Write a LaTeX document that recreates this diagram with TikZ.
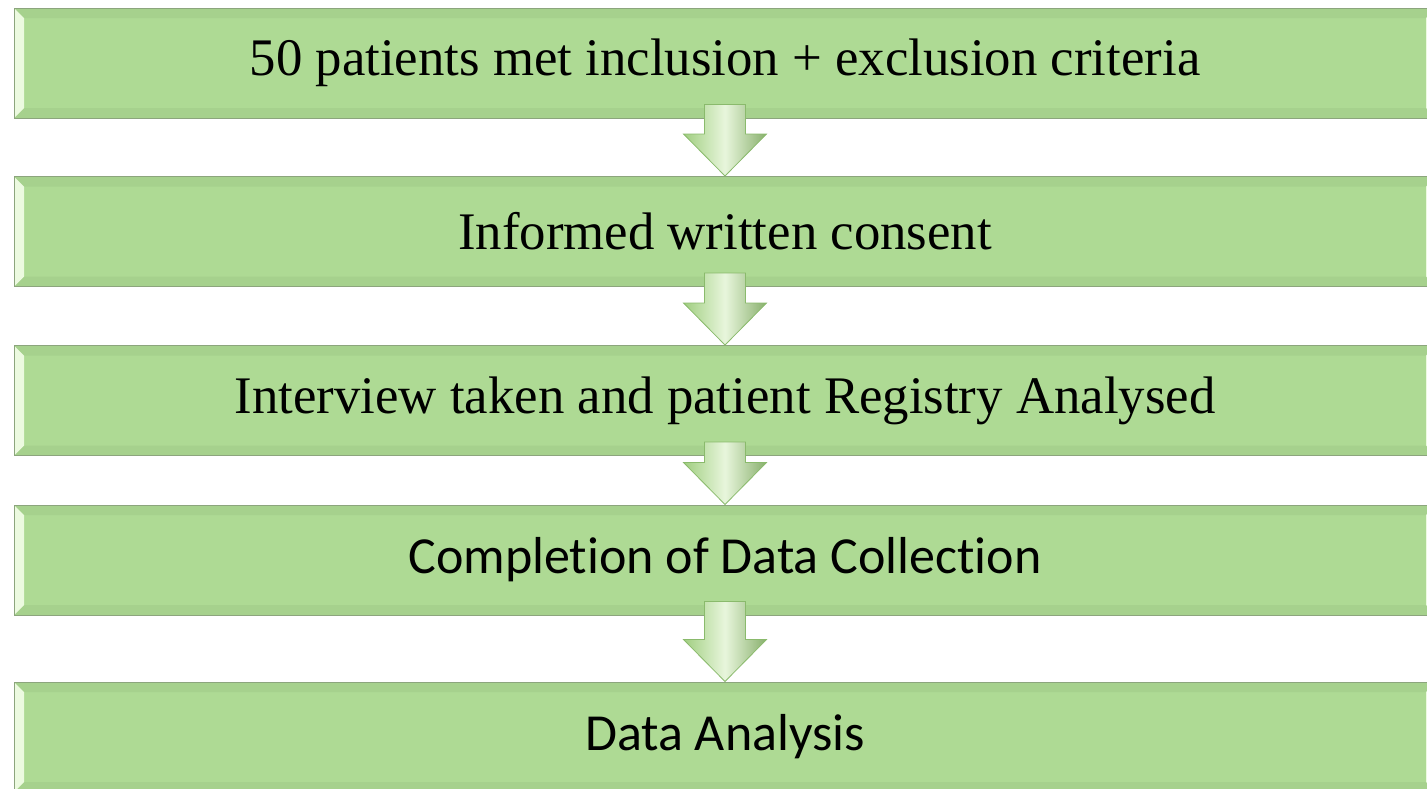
\documentclass[tikz,border=0pt]{standalone}
\usepackage{fontspec}
\setmainfont{Liberation Serif}
\newfontfamily\calibrifont[Ligatures=NoCommon]{Carlito}
\usetikzlibrary{calc}
\definecolor{boxgreen}{RGB}{174,218,148}
\definecolor{boxshade}{RGB}{166,209,141}
\definecolor{boxedge}{RGB}{140,165,125}
\definecolor{bevellight}{RGB}{236,250,224}
\definecolor{arrowgreen}{RGB}{160,206,128}
\definecolor{arrowlight}{RGB}{232,246,220}
\definecolor{arrowedge}{RGB}{138,186,108}

\tikzset{
  stepbox/.style={draw=boxedge, line width=1pt, fill=boxgreen, minimum width=1422pt,
    minimum height=110pt, inner sep=0pt,
    path picture={
      \fill[boxshade] (path picture bounding box.north west) -- (path picture bounding box.north east)
        -- ++(-10,10) -- ($(path picture bounding box.north west)+(10,10)$) -- cycle;
      \fill[boxshade] (path picture bounding box.south west) -- (path picture bounding box.south east)
        -- ++(-10,-10) -- ($(path picture bounding box.south west)+(10,-10)$) -- cycle;
      \fill[bevellight] (path picture bounding box.north west) -- ++(10,10)
        -- ($(path picture bounding box.south west)+(10,-10)$) -- (path picture bounding box.south west) -- cycle;
      \fill[bevellight] (path picture bounding box.north east) -- ++(-10,10)
        -- ($(path picture bounding box.south east)+(-10,-10)$) -- (path picture bounding box.south east) -- cycle;
    }},
  serifbig/.style={font=\fontsize{52.8}{60}\selectfont},
  sansbig/.style={font=\calibrifont\fontsize{52}{60}\selectfont},
  flowarrow/.style={draw=arrowedge, line width=0.8pt, left color=arrowgreen,
    right color=arrowgreen!85!black, middle color=arrowlight}
}

\begin{document}
\begin{tikzpicture}[x=1pt,y=-1pt]
\useasboundingbox (0,0) rectangle (1427,788);
\clip (0,0) rectangle (1427,788);
% steps
\node[stepbox, serifbig] (b1) at (725,63)    {50 patients met inclusion + exclusion criteria};
\node[stepbox, serifbig] (b2) at (725,231.5) {Informed written consent};
\node[stepbox, serifbig] (b3) at (725,400.5) {Interview taken and patient Registry Analysed};
\node[stepbox, sansbig]  (b4) at (725,560)   {Completion of Data Collection};
\node[stepbox, sansbig]  (b5) at (725,737)   {Data Analysis};
% block arrows between the steps
\foreach \a/\b in {b1/b2,b2/b3,b3/b4,b4/b5}{
  \draw[flowarrow] ($(\a.south)+(-20.5,-14)$) -- ($(\b.north)+(-20.5,-42)$)
    -- ($(\b.north)+(-41.5,-42)$) -- (\b.north) -- ($(\b.north)+(41.5,-42)$)
    -- ($(\b.north)+(20.5,-42)$) -- ($(\a.south)+(20.5,-14)$) -- cycle;
}
\end{tikzpicture}
\end{document}
